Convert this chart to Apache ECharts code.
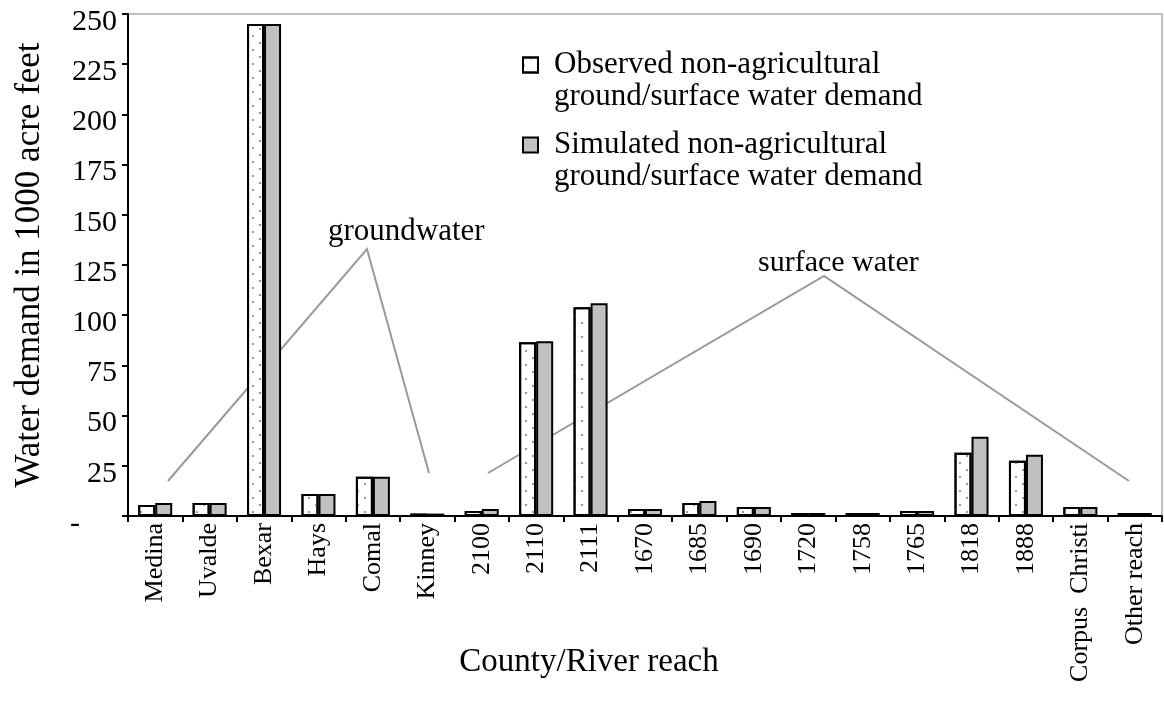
<!DOCTYPE html>
<html>
<head>
<meta charset="utf-8">
<script src="https://cdn.jsdelivr.net/npm/echarts@6/dist/echarts.min.js"></script>
<style>
html,body{margin:0;padding:0;background:#fff;}
#main{width:1164px;height:701px;}
</style>
</head>
<body>
<div id="main"></div>
<script>
let categories=["Medina","Uvalde","Bexar","Hays","Comal","Kinney","2100","2110","2111","1670","1685","1690","1720","1758","1765","1818","1888","Corpus  Christi","Other reach"];
let observed=[5.5,6.5,245,11,19.5,1.2,2.5,86.5,104,3.5,6.5,4.5,1.5,1.5,2.5,31.5,27.5,4.5,1.5];
let simulated=[6.5,6.5,245,11,19.5,1.2,3.5,87,106,3.5,7.5,4.5,1.5,1.5,2.5,39.5,30.5,4.5,1.5];
let yTicks=[0,25,50,75,100,125,150,175,200,225,250];
let obsName="Observed non-agricultural\nground/surface water demand";
let simName="Simulated non-agricultural\nground/surface water demand";

let font="Liberation Serif";
let gray="#999999";

// icon sits next to the first text line, so a blank line goes on top
function legendBox(name,top){
	return {
		data:[name],
		orient:"vertical",
		left:522,
		top:top,
		padding:0,
		icon:"rect",
		itemWidth:15,
		itemHeight:15,
		selectedMode:false,
		formatter:function(n){return " \n"+n;},
		textStyle:{
			fontFamily:font,
			fontSize:31,
			lineHeight:32,
			color:"#000",
			padding:[0,0,0,11]
		}
	};
}

var myChart=echarts.init(document.querySelector("#main"));
option={
	animation:false,
	textStyle:{fontFamily:font,color:"#000"},
	grid:{
		left:128,
		right:2,
		top:14,
		bottom:185,
		outerBoundsMode:"none",
		containLabel:false,
		show:true,
		borderColor:"#c0c0c0",
		borderWidth:2
	},
	legend:[legendBox(obsName,17),legendBox(simName,97)],
	xAxis:{
		type:"category",
		data:categories,
		name:"County/River reach",
		nameLocation:"middle",
		nameGap:130,
		nameMoveOverlap:false,
		nameTextStyle:{fontFamily:font,fontSize:33,color:"#000",padding:[0,112,0,0]},
		axisLine:{lineStyle:{color:"#000",width:2}},
		axisTick:{show:true,interval:0,length:6,lineStyle:{color:"#000",width:2}},
		axisLabel:{
			interval:0,
			rotate:90,
			margin:7,
			fontFamily:font,
			fontSize:26,
			color:"#000"
		}
	},
	yAxis:{
		type:"value",
		min:yTicks[0],
		max:yTicks[yTicks.length-1],
		interval:25,
		name:"Water demand in 1000 acre feet",
		nameLocation:"middle",
		nameGap:81,
		nameMoveOverlap:false,
		nameTextStyle:{fontFamily:font,fontSize:35,color:"#000"},
		axisLine:{show:true,lineStyle:{color:"#000",width:2}},
		axisTick:{show:true,length:6,lineStyle:{color:"#000",width:2}},
		splitLine:{show:false},
		axisLabel:{
			margin:11,
			fontFamily:font,
			fontSize:30,
			color:"#000",
			padding:[16,0,0,0],
			formatter:function(v){
				return v===0?"{z|-}":String(v);
			},
			rich:{
				z:{fontFamily:font,fontSize:30,color:"#000",padding:[0,37,0,0]}
			}
		}
	},
	series:[{
		name:obsName,
		type:"bar",
		data:observed,
		barWidth:17,
		barGap:"0%",
		itemStyle:{
			color:"#fff",
			borderColor:"#000",
			borderWidth:2,
			decal:{
				symbol:"rect",
				symbolSize:1,
				color:"#999",
				dashArrayX:[[2,12],[0,7,2,5]],
				dashArrayY:[2,5],
				rotation:0
			}
		}
	},{
		name:simName,
		type:"bar",
		data:simulated,
		barWidth:17,
		barGap:"0%",
		itemStyle:{
			color:"#c0c0c0",
			borderColor:"#000",
			borderWidth:2
		}
	}],
	graphic:[
		{type:"polyline",shape:{points:[[168,481],[367,249],[429,473]]},style:{stroke:gray,lineWidth:2,fill:null}},
		{type:"polyline",shape:{points:[[488,473],[824,276],[1129,481]]},style:{stroke:gray,lineWidth:2,fill:null}},
		{type:"text",left:328,top:216,style:{text:"groundwater",font:"31px "+font,fill:"#000"}},
		{type:"text",left:758,top:248,style:{text:"surface water",font:"30px "+font,fill:"#000"}}
	]
};
myChart.setOption(option);
</script>
</body>
</html>
